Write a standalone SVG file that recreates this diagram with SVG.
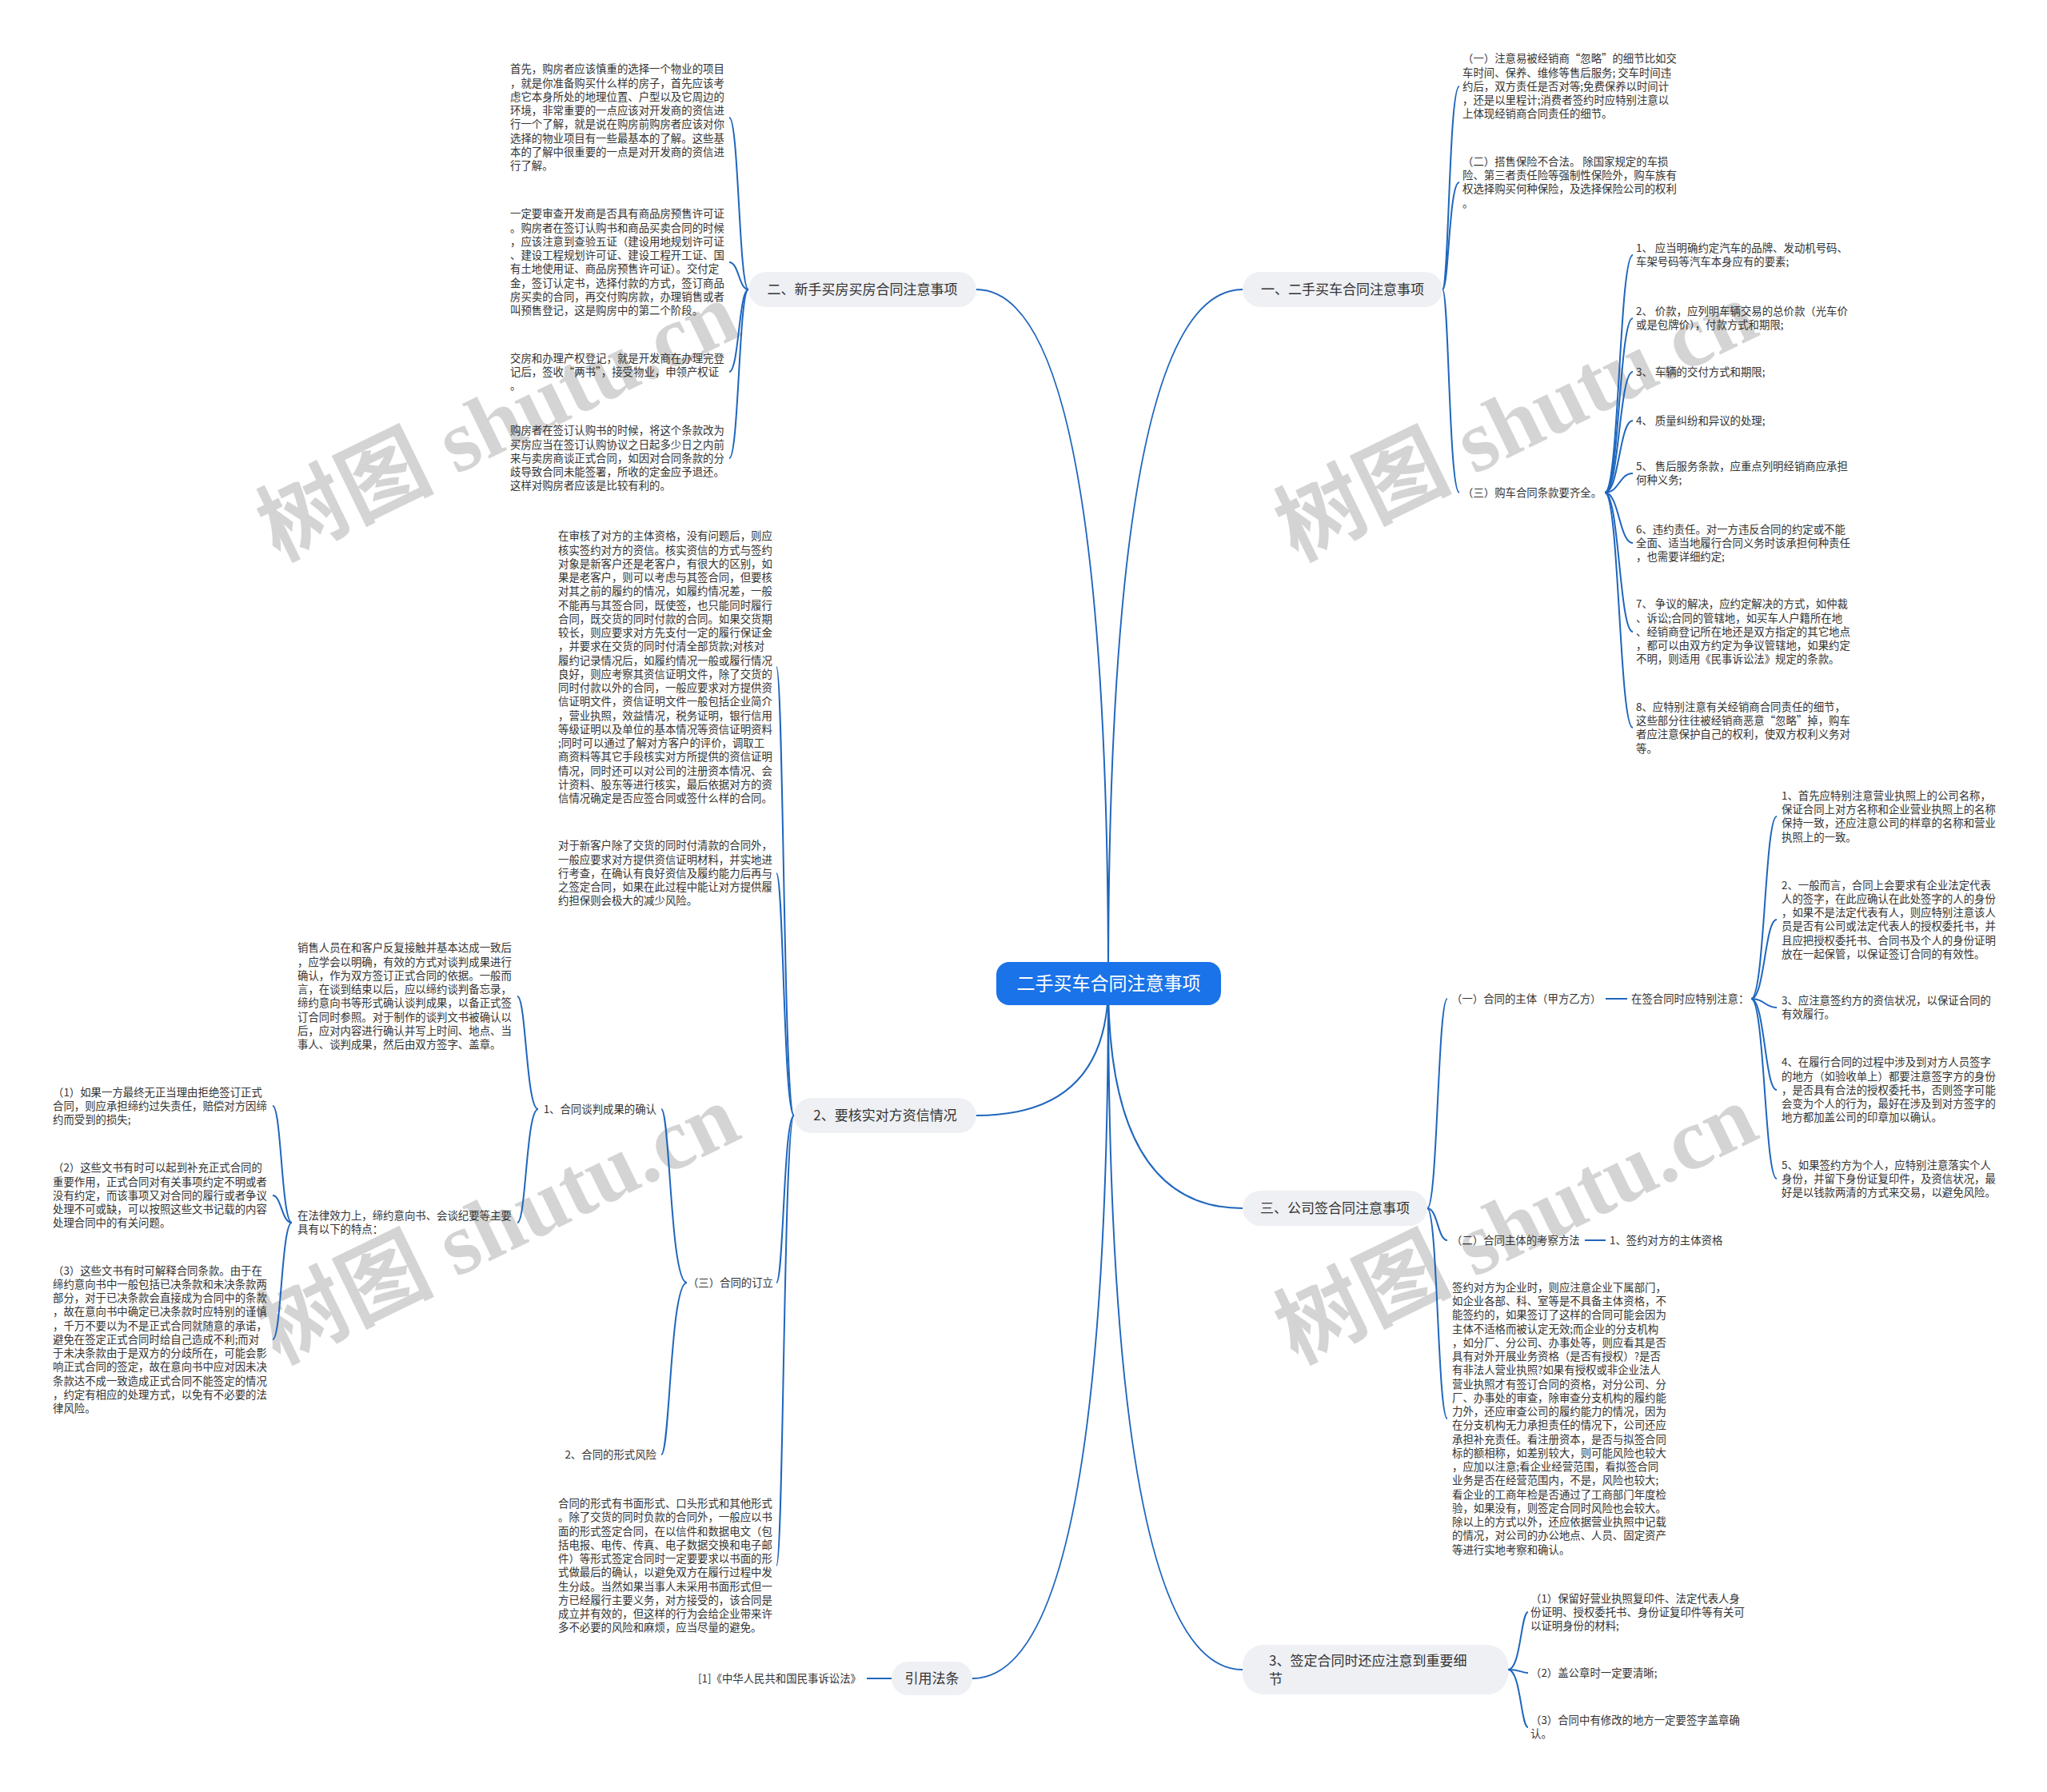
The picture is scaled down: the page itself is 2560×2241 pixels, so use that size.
<svg xmlns="http://www.w3.org/2000/svg" width="2560" height="2241" viewBox="0 0 2560 2241">
<style>
text{font-family:"Noto Sans CJK SC","Noto Sans",sans-serif;}
.t{font-size:13.4px;fill:#333333;}
.b{font-size:17px;fill:#333333;}
.c{font-size:23px;fill:#ffffff;}
.ln{fill:none;stroke:#1f66bd;stroke-width:2;}
.pill{fill:#eef0f4;}
.wm{font-family:"Liberation Serif","Noto Sans CJK SC",serif;font-size:110px;font-weight:bold;fill:#000000;fill-opacity:0.17;}
</style>
<rect width="2560" height="2241" fill="#ffffff"/>
<g id="watermarks">
<text class="wm" transform="translate(348,702) rotate(-26)">树图 shutu.cn</text>
<text class="wm" transform="translate(1621,702) rotate(-26)">树图 shutu.cn</text>
<text class="wm" transform="translate(348,1706) rotate(-26)">树图 shutu.cn</text>
<text class="wm" transform="translate(1621,1706) rotate(-26)">树图 shutu.cn</text>
</g>
<g id="connectors">
<path class="ln" d="M1386 1230 Q1386 362 1554 362"/>
<path class="ln" d="M1386 1230 Q1386 362 1221 362"/>
<path class="ln" d="M1386 1230 Q1386 1395 1221 1395"/>
<path class="ln" d="M1386 1230 Q1386 1511 1554 1511"/>
<path class="ln" d="M1386 1230 Q1386 2088 1554 2088"/>
<path class="ln" d="M1386 1230 Q1386 2099 1216 2099"/>
<path class="ln" d="M1804 362 C1812 362 1812 108 1825 108"/>
<path class="ln" d="M1804 362 C1812 362 1812 228 1825 228"/>
<path class="ln" d="M1804 362 C1812 362 1812 616 1825 616"/>
<path class="ln" d="M2007 616 C2025 616 2025 319 2042 319"/>
<path class="ln" d="M2007 616 C2025 616 2025 398 2042 398"/>
<path class="ln" d="M2007 616 C2025 616 2025 465 2042 465"/>
<path class="ln" d="M2007 616 C2025 616 2025 526 2042 526"/>
<path class="ln" d="M2007 616 C2025 616 2025 592 2042 592"/>
<path class="ln" d="M2007 616 C2025 616 2025 679 2042 679"/>
<path class="ln" d="M2007 616 C2025 616 2025 790 2042 790"/>
<path class="ln" d="M2007 616 C2025 616 2025 910 2042 910"/>
<path class="ln" d="M936 362 C924 362 924 147 912 147"/>
<path class="ln" d="M936 362 C924 362 924 328 912 328"/>
<path class="ln" d="M936 362 C924 362 924 465 912 465"/>
<path class="ln" d="M936 362 C924 362 924 573 912 573"/>
<path class="ln" d="M993 1395 C980 1395 980 834 971 834"/>
<path class="ln" d="M993 1395 C980 1395 980 1092 971 1092"/>
<path class="ln" d="M993 1395 C980 1395 980 1604 971 1604"/>
<path class="ln" d="M993 1395 C980 1395 980 1958 971 1958"/>
<path class="ln" d="M859 1604 C838 1604 838 1387 827 1387"/>
<path class="ln" d="M859 1604 C838 1604 838 1819 827 1819"/>
<path class="ln" d="M673 1387 C658 1387 658 1246 647 1246"/>
<path class="ln" d="M673 1387 C658 1387 658 1529 647 1529"/>
<path class="ln" d="M365 1529 C352 1529 352 1383 341 1383"/>
<path class="ln" d="M365 1529 C352 1529 352 1495 341 1495"/>
<path class="ln" d="M365 1529 C352 1529 352 1675 341 1675"/>
<path class="ln" d="M1785 1511 C1798 1511 1798 1249 1810 1249"/>
<path class="ln" d="M1785 1511 C1798 1511 1798 1551 1810 1551"/>
<path class="ln" d="M1785 1511 C1798 1511 1798 1774 1810 1774"/>
<path class="ln" d="M2008 1249 L2035 1249"/>
<path class="ln" d="M1982 1551 L2008 1551"/>
<path class="ln" d="M2190 1249 C2207 1249 2207 1021 2222 1021"/>
<path class="ln" d="M2190 1249 C2207 1249 2207 1150 2222 1150"/>
<path class="ln" d="M2190 1249 C2207 1249 2207 1260 2222 1260"/>
<path class="ln" d="M2190 1249 C2207 1249 2207 1363 2222 1363"/>
<path class="ln" d="M2190 1249 C2207 1249 2207 1474 2222 1474"/>
<path class="ln" d="M1886 2088 C1902 2088 1902 2016 1911 2016"/>
<path class="ln" d="M1886 2088 C1902 2088 1902 2092 1911 2092"/>
<path class="ln" d="M1886 2088 C1902 2088 1902 2160 1911 2160"/>
<path class="ln" d="M1115 2099 L1084 2099"/>
</g>
<g id="center">
<rect x="1246" y="1203" width="281" height="54" rx="16" fill="#1a73e8"/>
<text class="c" x="1386.5" y="1238" text-anchor="middle">二手买车合同注意事项</text>
</g>
<g id="b1">
<rect class="pill" x="1554" y="340" width="250" height="44" rx="22"/>
<text class="b" x="1679" y="368" text-anchor="middle">一、二手买车合同注意事项</text>
</g>
<g id="b1-1">
<text class="t" x="1829" y="78.3"><tspan x="1829">（一）注意易被经销商“忽略”的细节比如交</tspan><tspan x="1829" dy="17.25">车时间、保养、维修等售后服务; 交车时间违</tspan><tspan x="1829" dy="17.25">约后，双方责任是否对等;免费保养以时间计</tspan><tspan x="1829" dy="17.25">，还是以里程计;消费者签约时应特别注意以</tspan><tspan x="1829" dy="17.25">上体现经销商合同责任的细节。</tspan></text>
</g>
<g id="b1-2">
<text class="t" x="1829" y="206.9"><tspan x="1829">（二）搭售保险不合法。 除国家规定的车损</tspan><tspan x="1829" dy="17.25">险、第三者责任险等强制性保险外，购车族有</tspan><tspan x="1829" dy="17.25">权选择购买何种保险，及选择保险公司的权利</tspan><tspan x="1829" dy="17.25">。</tspan></text>
</g>
<g id="b1-3">
<text class="t" x="1829" y="620.8">（三）购车合同条款要齐全。</text>
</g>
<g id="b1-3-1"><text class="t" x="2046" y="315.2"><tspan x="2046">1、 应当明确约定汽车的品牌、发动机号码、</tspan><tspan x="2046" dy="17.25">车架号码等汽车本身应有的要素;</tspan></text></g>
<g id="b1-3-2"><text class="t" x="2046" y="394.2"><tspan x="2046">2、 价款，应列明车辆交易的总价款（光车价</tspan><tspan x="2046" dy="17.25">或是包牌价），付款方式和期限;</tspan></text></g>
<g id="b1-3-3"><text class="t" x="2046" y="469.8">3、 车辆的交付方式和期限;</text></g>
<g id="b1-3-4"><text class="t" x="2046" y="530.8">4、 质量纠纷和异议的处理;</text></g>
<g id="b1-3-5"><text class="t" x="2046" y="588.2"><tspan x="2046">5、 售后服务条款，应重点列明经销商应承担</tspan><tspan x="2046" dy="17.25">何种义务;</tspan></text></g>
<g id="b1-3-6"><text class="t" x="2046" y="666.55"><tspan x="2046">6、违约责任。对一方违反合同的约定或不能</tspan><tspan x="2046" dy="17.25">全面、适当地履行合同义务时该承担何种责任</tspan><tspan x="2046" dy="17.25">，也需要详细约定;</tspan></text></g>
<g id="b1-3-7"><text class="t" x="2046" y="760.3"><tspan x="2046">7、 争议的解决，应约定解决的方式，如仲裁</tspan><tspan x="2046" dy="17.25">、诉讼;合同的管辖地，如买车人户籍所在地</tspan><tspan x="2046" dy="17.25">、经销商登记所在地还是双方指定的其它地点</tspan><tspan x="2046" dy="17.25">，都可以由双方约定为争议管辖地，如果约定</tspan><tspan x="2046" dy="17.25">不明，则适用《民事诉讼法》规定的条款。</tspan></text></g>
<g id="b1-3-8"><text class="t" x="2046" y="888.9"><tspan x="2046">8、应特别注意有关经销商合同责任的细节，</tspan><tspan x="2046" dy="17.25">这些部分往往被经销商恶意“忽略”掉，购车</tspan><tspan x="2046" dy="17.25">者应注意保护自己的权利，使双方权利义务对</tspan><tspan x="2046" dy="17.25">等。</tspan></text></g>
<g id="b2">
<rect class="pill" x="936" y="340" width="285" height="44" rx="22"/>
<text class="b" x="1078.5" y="368" text-anchor="middle">二、新手买房买房合同注意事项</text>
</g>
<g id="b2-1"><text class="t" x="638" y="91.4"><tspan x="638">首先，购房者应该慎重的选择一个物业的项目</tspan><tspan x="638" dy="17.25">，就是你准备购买什么样的房子，首先应该考</tspan><tspan x="638" dy="17.25">虑它本身所处的地理位置、户型以及它周边的</tspan><tspan x="638" dy="17.25">环境，非常重要的一点应该对开发商的资信进</tspan><tspan x="638" dy="17.25">行一个了解，就是说在购房前购房者应该对你</tspan><tspan x="638" dy="17.25">选择的物业项目有一些最基本的了解。这些基</tspan><tspan x="638" dy="17.25">本的了解中很重要的一点是对开发商的资信进</tspan><tspan x="638" dy="17.25">行了解。</tspan></text></g>
<g id="b2-2"><text class="t" x="638" y="272.4"><tspan x="638">一定要审查开发商是否具有商品房预售许可证</tspan><tspan x="638" dy="17.25">。购房者在签订认购书和商品买卖合同的时候</tspan><tspan x="638" dy="17.25">，应该注意到查验五证（建设用地规划许可证</tspan><tspan x="638" dy="17.25">、建设工程规划许可证、建设工程开工证、国</tspan><tspan x="638" dy="17.25">有土地使用证、商品房预售许可证）。交付定</tspan><tspan x="638" dy="17.25">金，签订认定书，选择付款的方式，签订商品</tspan><tspan x="638" dy="17.25">房买卖的合同，再交付购房款，办理销售或者</tspan><tspan x="638" dy="17.25">叫预售登记，这是购房中的第二个阶段。</tspan></text></g>
<g id="b2-3"><text class="t" x="638" y="452.6"><tspan x="638">交房和办理产权登记，就是开发商在办理完登</tspan><tspan x="638" dy="17.25">记后，签收“两书”，接受物业，申领产权证</tspan><tspan x="638" dy="17.25">。</tspan></text></g>
<g id="b2-4"><text class="t" x="638" y="543.3"><tspan x="638">购房者在签订认购书的时候，将这个条款改为</tspan><tspan x="638" dy="17.25">买房应当在签订认购协议之日起多少日之内前</tspan><tspan x="638" dy="17.25">来与卖房商谈正式合同，如因对合同条款的分</tspan><tspan x="638" dy="17.25">歧导致合同未能签署，所收的定金应予退还。</tspan><tspan x="638" dy="17.25">这样对购房者应该是比较有利的。</tspan></text></g>
<g id="b3">
<rect class="pill" x="993" y="1373" width="228" height="44" rx="22"/>
<text class="b" x="1107" y="1401" text-anchor="middle">2、要核实对方资信情况</text>
</g>
<g id="b3-1"><text class="t" x="698" y="675.4"><tspan x="698">在审核了对方的主体资格，没有问题后，则应</tspan><tspan x="698" dy="17.25">核实签约对方的资信。核实资信的方式与签约</tspan><tspan x="698" dy="17.25">对象是新客户还是老客户，有很大的区别，如</tspan><tspan x="698" dy="17.25">果是老客户，则可以考虑与其签合同，但要核</tspan><tspan x="698" dy="17.25">对其之前的履约的情况，如履约情况差，一般</tspan><tspan x="698" dy="17.25">不能再与其签合同，既使签，也只能同时履行</tspan><tspan x="698" dy="17.25">合同，既交货的同时付款的合同。如果交货期</tspan><tspan x="698" dy="17.25">较长，则应要求对方先支付一定的履行保证金</tspan><tspan x="698" dy="17.25">，并要求在交货的同时付清全部货款;对核对</tspan><tspan x="698" dy="17.25">履约记录情况后，如履约情况一般或履行情况</tspan><tspan x="698" dy="17.25">良好，则应考察其资信证明文件，除了交货的</tspan><tspan x="698" dy="17.25">同时付款以外的合同，一般应要求对方提供资</tspan><tspan x="698" dy="17.25">信证明文件，资信证明文件一般包括企业简介</tspan><tspan x="698" dy="17.25">，营业执照，效益情况，税务证明，银行信用</tspan><tspan x="698" dy="17.25">等级证明以及单位的基本情况等资信证明资料</tspan><tspan x="698" dy="17.25">;同时可以通过了解对方客户的评价，调取工</tspan><tspan x="698" dy="17.25">商资料等其它手段核实对方所提供的资信证明</tspan><tspan x="698" dy="17.25">情况，同时还可以对公司的注册资本情况、会</tspan><tspan x="698" dy="17.25">计资料、股东等进行核实，最后依据对方的资</tspan><tspan x="698" dy="17.25">信情况确定是否应签合同或签什么样的合同。</tspan></text></g>
<g id="b3-2"><text class="t" x="698" y="1062.3"><tspan x="698">对于新客户除了交货的同时付清款的合同外，</tspan><tspan x="698" dy="17.25">一般应要求对方提供资信证明材料，并实地进</tspan><tspan x="698" dy="17.25">行考查，在确认有良好资信及履约能力后再与</tspan><tspan x="698" dy="17.25">之签定合同，如果在此过程中能让对方提供履</tspan><tspan x="698" dy="17.25">约担保则会极大的减少风险。</tspan></text></g>
<g id="b3-3"><text class="t" x="967" y="1608.8" text-anchor="end">（三）合同的订立</text></g>
<g id="b3-3-1"><text class="t" x="821" y="1391.8" text-anchor="end">1、合同谈判成果的确认</text></g>
<g id="b3-3-1-1"><text class="t" x="372" y="1190.4"><tspan x="372">销售人员在和客户反复接触并基本达成一致后</tspan><tspan x="372" dy="17.25">，应学会以明确，有效的方式对谈判成果进行</tspan><tspan x="372" dy="17.25">确认，作为双方签订正式合同的依据。一般而</tspan><tspan x="372" dy="17.25">言，在谈到结束以后，应以缔约谈判备忘录，</tspan><tspan x="372" dy="17.25">缔约意向书等形式确认谈判成果，以备正式签</tspan><tspan x="372" dy="17.25">订合同时参照。对于制作的谈判文书被确认以</tspan><tspan x="372" dy="17.25">后，应对内容进行确认并写上时间、地点、当</tspan><tspan x="372" dy="17.25">事人、谈判成果，然后由双方签字、盖章。</tspan></text></g>
<g id="b3-3-1-2"><text class="t" x="372" y="1525.2"><tspan x="372">在法律效力上，缔约意向书、会谈纪要等主要</tspan><tspan x="372" dy="17.25">具有以下的特点：</tspan></text></g>
<g id="b3-3-1-2-1"><text class="t" x="66" y="1370.55"><tspan x="66">（1）如果一方最终无正当理由拒绝签订正式</tspan><tspan x="66" dy="17.25">合同，则应承担缔约过失责任，赔偿对方因缔</tspan><tspan x="66" dy="17.25">约而受到的损失;</tspan></text></g>
<g id="b3-3-1-2-2"><text class="t" x="66" y="1465.3"><tspan x="66">（2）这些文书有时可以起到补充正式合同的</tspan><tspan x="66" dy="17.25">重要作用，正式合同对有关事项约定不明或者</tspan><tspan x="66" dy="17.25">没有约定，而该事项又对合同的履行或者争议</tspan><tspan x="66" dy="17.25">处理不可或缺，可以按照这些文书记载的内容</tspan><tspan x="66" dy="17.25">处理合同中的有关问题。</tspan></text></g>
<g id="b3-3-1-2-3"><text class="t" x="66" y="1593.55"><tspan x="66">（3）这些文书有时可解释合同条款。由于在</tspan><tspan x="66" dy="17.25">缔约意向书中一般包括已决条款和未决条款两</tspan><tspan x="66" dy="17.25">部分，对于已决条款会直接成为合同中的条款</tspan><tspan x="66" dy="17.25">，故在意向书中确定已决条款时应特别的谨慎</tspan><tspan x="66" dy="17.25">，千万不要以为不是正式合同就随意的承诺，</tspan><tspan x="66" dy="17.25">避免在签定正式合同时给自己造成不利;而对</tspan><tspan x="66" dy="17.25">于未决条款由于是双方的分歧所在，可能会影</tspan><tspan x="66" dy="17.25">响正式合同的签定，故在意向书中应对因未决</tspan><tspan x="66" dy="17.25">条款达不成一致造成正式合同不能签定的情况</tspan><tspan x="66" dy="17.25">，约定有相应的处理方式，以免有不必要的法</tspan><tspan x="66" dy="17.25">律风险。</tspan></text></g>
<g id="b3-3-2"><text class="t" x="821" y="1823.8" text-anchor="end">2、合同的形式风险</text></g>
<g id="b3-4"><text class="t" x="698" y="1885.2"><tspan x="698">合同的形式有书面形式、口头形式和其他形式</tspan><tspan x="698" dy="17.25">。除了交货的同时负款的合同外，一般应以书</tspan><tspan x="698" dy="17.25">面的形式签定合同，在以信件和数据电文（包</tspan><tspan x="698" dy="17.25">括电报、电传、传真、电子数据交换和电子邮</tspan><tspan x="698" dy="17.25">件）等形式签定合同时一定要要求以书面的形</tspan><tspan x="698" dy="17.25">式做最后的确认，以避免双方在履行过程中发</tspan><tspan x="698" dy="17.25">生分歧。当然如果当事人未采用书面形式但一</tspan><tspan x="698" dy="17.25">方已经履行主要义务，对方接受的，该合同是</tspan><tspan x="698" dy="17.25">成立并有效的，但这样的行为会给企业带来许</tspan><tspan x="698" dy="17.25">多不必要的风险和麻烦，应当尽量的避免。</tspan></text></g>
<g id="b4">
<rect class="pill" x="1554" y="1489" width="231" height="44" rx="22"/>
<text class="b" x="1669.5" y="1517" text-anchor="middle">三、公司签合同注意事项</text>
</g>
<g id="b4-1"><text class="t" x="1815" y="1253.8">（一）合同的主体（甲方乙方）</text></g>
<g id="b4-1-1"><text class="t" x="2040" y="1253.8">在签合同时应特别注意：</text></g>
<g id="b4-1-1-1"><text class="t" x="2228" y="999.9"><tspan x="2228">1、首先应特别注意营业执照上的公司名称，</tspan><tspan x="2228" dy="17.25">保证合同上对方名称和企业营业执照上的名称</tspan><tspan x="2228" dy="17.25">保持一致，还应注意公司的样章的名称和营业</tspan><tspan x="2228" dy="17.25">执照上的一致。</tspan></text></g>
<g id="b4-1-1-2"><text class="t" x="2228" y="1111.7"><tspan x="2228">2、一般而言，合同上会要求有企业法定代表</tspan><tspan x="2228" dy="17.25">人的签字，在此应确认在此处签字的人的身份</tspan><tspan x="2228" dy="17.25">，如果不是法定代表有人，则应特别注意该人</tspan><tspan x="2228" dy="17.25">员是否有公司或法定代表人的授权委托书，并</tspan><tspan x="2228" dy="17.25">且应把授权委托书、合同书及个人的身份证明</tspan><tspan x="2228" dy="17.25">放在一起保管，以保证签订合同的有效性。</tspan></text></g>
<g id="b4-1-1-3"><text class="t" x="2228" y="1256.2"><tspan x="2228">3、应注意签约方的资信状况，以保证合同的</tspan><tspan x="2228" dy="17.25">有效履行。</tspan></text></g>
<g id="b4-1-1-4"><text class="t" x="2228" y="1333.3"><tspan x="2228">4、在履行合同的过程中涉及到对方人员签字</tspan><tspan x="2228" dy="17.25">的地方（如验收单上）都要注意签字方的身份</tspan><tspan x="2228" dy="17.25">，是否具有合法的授权委托书，否则签字可能</tspan><tspan x="2228" dy="17.25">会变为个人的行为，最好在涉及到对方签字的</tspan><tspan x="2228" dy="17.25">地方都加盖公司的印章加以确认。</tspan></text></g>
<g id="b4-1-1-5"><text class="t" x="2228" y="1461.55"><tspan x="2228">5、如果签约方为个人，应特别注意落实个人</tspan><tspan x="2228" dy="17.25">身份，并留下身份证复印件，及资信状况，最</tspan><tspan x="2228" dy="17.25">好是以钱款两清的方式来交易，以避免风险。</tspan></text></g>
<g id="b4-2"><text class="t" x="1815" y="1555.8">（二）合同主体的考察方法</text></g>
<g id="b4-2-1"><text class="t" x="2013" y="1555.8">1、签约对方的主体资格</text></g>
<g id="b4-3"><text class="t" x="1816" y="1614.9"><tspan x="1816">签约对方为企业时，则应注意企业下属部门，</tspan><tspan x="1816" dy="17.25">如企业各部、科、室等是不具备主体资格，不</tspan><tspan x="1816" dy="17.25">能签约的，如果签订了这样的合同可能会因为</tspan><tspan x="1816" dy="17.25">主体不适格而被认定无效;而企业的分支机构</tspan><tspan x="1816" dy="17.25">，如分厂、分公司、办事处等，则应看其是否</tspan><tspan x="1816" dy="17.25">具有对外开展业务资格（是否有授权）?是否</tspan><tspan x="1816" dy="17.25">有非法人营业执照?如果有授权或非企业法人</tspan><tspan x="1816" dy="17.25">营业执照才有签订合同的资格，对分公司、分</tspan><tspan x="1816" dy="17.25">厂、办事处的审查，除审查分支机构的履约能</tspan><tspan x="1816" dy="17.25">力外，还应审查公司的履约能力的情况，因为</tspan><tspan x="1816" dy="17.25">在分支机构无力承担责任的情况下，公司还应</tspan><tspan x="1816" dy="17.25">承担补充责任。看注册资本，是否与拟签合同</tspan><tspan x="1816" dy="17.25">标的额相称，如差别较大，则可能风险也较大</tspan><tspan x="1816" dy="17.25">，应加以注意;看企业经营范围，看拟签合同</tspan><tspan x="1816" dy="17.25">业务是否在经营范围内，不是，风险也较大;</tspan><tspan x="1816" dy="17.25">看企业的工商年检是否通过了工商部门年度检</tspan><tspan x="1816" dy="17.25">验，如果没有，则签定合同时风险也会较大。</tspan><tspan x="1816" dy="17.25">除以上的方式以外，还应依据营业执照中记载</tspan><tspan x="1816" dy="17.25">的情况，对公司的办公地点、人员、固定资产</tspan><tspan x="1816" dy="17.25">等进行实地考察和确认。</tspan></text></g>
<g id="b5">
<rect class="pill" x="1554" y="2057" width="332" height="62" rx="26"/>
<text class="b" x="1587" y="2083"><tspan x="1587">3、签定合同时还应注意到重要细</tspan><tspan x="1587" dy="23">节</tspan></text>
</g>
<g id="b5-1"><text class="t" x="1914" y="2003.55"><tspan x="1914">（1）保留好营业执照复印件、法定代表人身</tspan><tspan x="1914" dy="17.25">份证明、授权委托书、身份证复印件等有关可</tspan><tspan x="1914" dy="17.25">以证明身份的材料;</tspan></text></g>
<g id="b5-2"><text class="t" x="1914" y="2096.8">（2）盖公章时一定要清晰;</text></g>
<g id="b5-3"><text class="t" x="1914" y="2156.2"><tspan x="1914">（3）合同中有修改的地方一定要签字盖章确</tspan><tspan x="1914" dy="17.25">认。</tspan></text></g>
<g id="b6">
<rect class="pill" x="1115" y="2078" width="101" height="42" rx="21"/>
<text class="b" x="1165.5" y="2105" text-anchor="middle">引用法条</text>
</g>
<g id="b6-1"><text class="t" x="1077" y="2103.8" text-anchor="end">[1]《中华人民共和国民事诉讼法》</text></g>
</svg>
